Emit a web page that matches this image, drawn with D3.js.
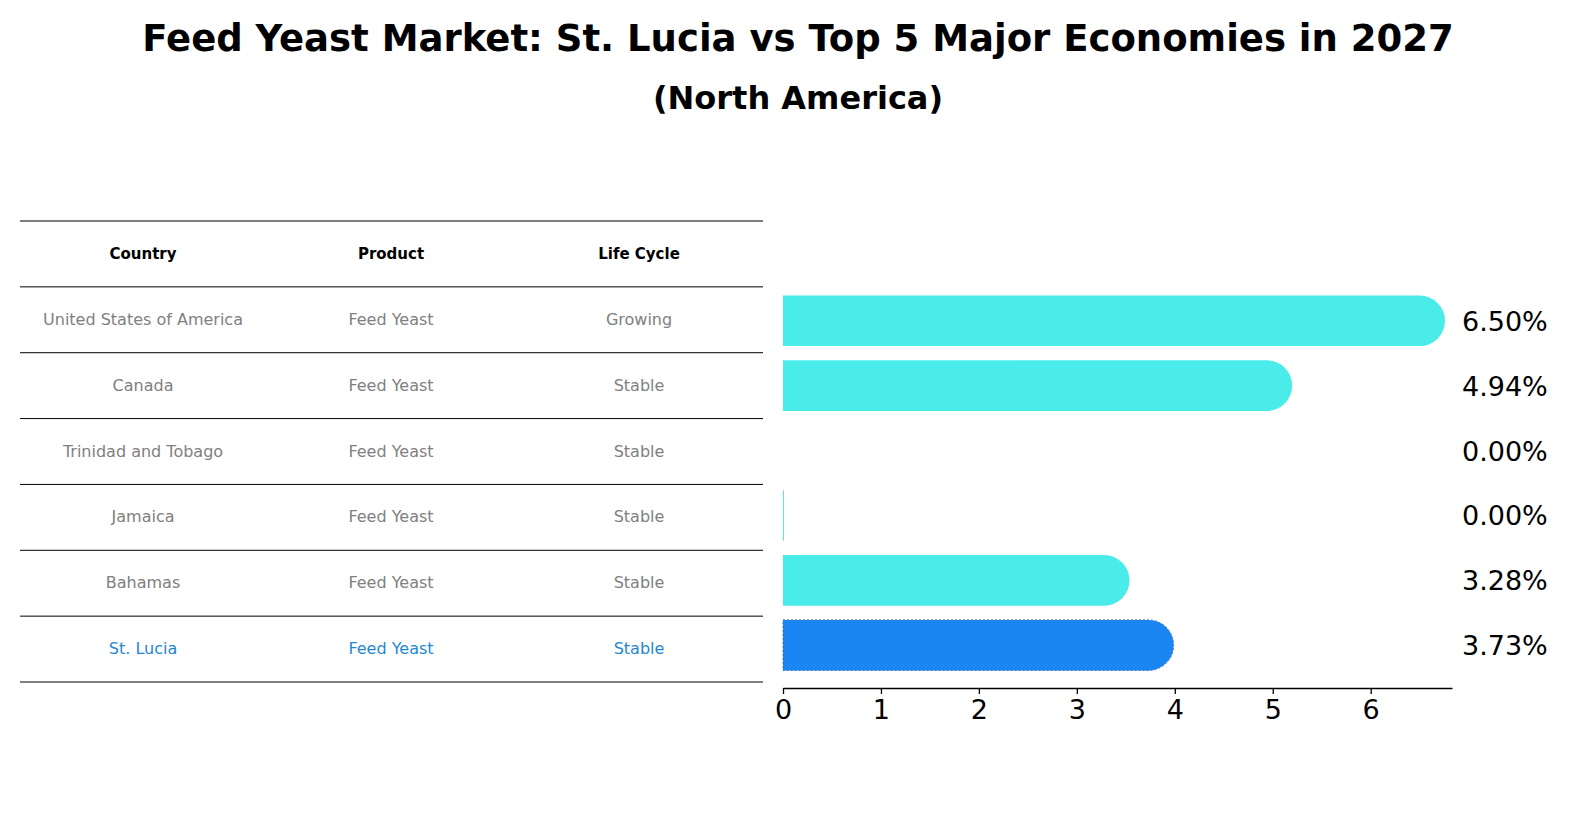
<!DOCTYPE html>
<html><head><meta charset="utf-8">
<script src="https://cdn.jsdelivr.net/npm/d3@7"></script>
<style>body{margin:0;background:#fff;font-family:"DejaVu Sans",sans-serif;}</style>
</head><body>
<svg id="chart" width="1586" height="823"></svg>
<script>
var countries  = ["United States of America", "Canada", "Trinidad and Tobago", "Jamaica", "Bahamas", "St. Lucia"];
var products   = ["Feed Yeast", "Feed Yeast", "Feed Yeast", "Feed Yeast", "Feed Yeast", "Feed Yeast"];
var lifeCycles = ["Growing", "Stable", "Stable", "Stable", "Stable", "Stable"];
var growth     = [6.50, 4.94, 0.00, 0.01, 3.28, 3.73];
var labels     = ["6.50%", "4.94%", "0.00%", "0.00%", "3.28%", "3.73%"];
var xTicks     = [0, 1, 2, 3, 4, 5, 6];
var headers    = ["Country", "Product", "Life Cycle"];

var svg = d3.select("#chart");

svg.append("text").attr("x", 798).attr("y", 51).attr("text-anchor", "middle")
  .attr("font-size", 37).attr("font-weight", "bold").text("Feed Yeast Market: St. Lucia vs Top 5 Major Economies in 2027");
svg.append("text").attr("x", 798).attr("y", 109).attr("text-anchor", "middle")
  .attr("font-size", 32).attr("font-weight", "bold").text("(North America)");

// table
var rowY = d3.scaleLinear().domain([0, 7]).range([221, 682]);
var colX = [143, 391, 639];
d3.range(8).forEach(function(i){
  svg.append("line").attr("x1", 20).attr("x2", 763).attr("y1", rowY(i)).attr("y2", rowY(i))
    .attr("stroke", "#000").attr("stroke-width", 1);
});
headers.forEach(function(h, j){
  svg.append("text").attr("x", colX[j]).attr("y", (rowY(0) + rowY(1)) / 2 + 5)
    .attr("text-anchor", "middle").attr("font-size", 15).attr("font-weight", "bold").text(h);
});
countries.forEach(function(c, i){
  var cells = [c, products[i], lifeCycles[i]];
  var col = c === "St. Lucia" ? "#1f88d0" : "#808080";
  cells.forEach(function(t, j){
    svg.append("text").attr("x", colX[j]).attr("y", (rowY(i + 1) + rowY(i + 2)) / 2 + 5)
      .attr("text-anchor", "middle").attr("font-size", 16).attr("fill", col).text(t);
  });
});

// bars
var x = d3.scaleLinear().domain([0, 6.83]).range([783, 1452]);
var y = d3.scaleBand().domain(countries).range([289, 677]).paddingInner(0.22).paddingOuter(0.1);
var bh = y.bandwidth(), r = bh / 2;

countries.forEach(function(c, i){
  var v = growth[i], yy = y(c);
  var fill = c === "St. Lucia" ? "#1a86f2" : "#4aecea";
  if (v > 0) {
    var x0 = x(0), x1 = x(v);
    var path = v >= 0.1
      ? "M" + x0 + "," + yy + "H" + x1 + "A" + r + "," + r + " 0 0 1 " + x1 + "," + (yy + bh) + "H" + x0 + "Z"
      : "M" + x0 + "," + yy + "H" + x1 + "V" + (yy + bh) + "H" + x0 + "Z";
    var p = svg.append("path").attr("d", path).attr("fill", fill);
    if (c === "St. Lucia") p.attr("stroke", "#3b6fc4").attr("stroke-width", 1).attr("stroke-dasharray", "2,2");
  }
  svg.append("text").attr("x", 1462).attr("y", yy + bh / 2 + 10)
    .attr("font-size", 27).text(labels[i]);
});

var axis = d3.axisBottom(x).tickValues(xTicks).tickSize(6).tickSizeOuter(0).tickFormat(d3.format("d"));
var g = svg.append("g").attr("transform", "translate(0,688)").call(axis);
g.select(".domain").attr("stroke-width", 1.3);
g.selectAll(".tick line").attr("stroke-width", 1.3);
g.selectAll("text").attr("font-size", 27).attr("font-family", "DejaVu Sans").attr("dy", "0.8em");
</script>
</body></html>
